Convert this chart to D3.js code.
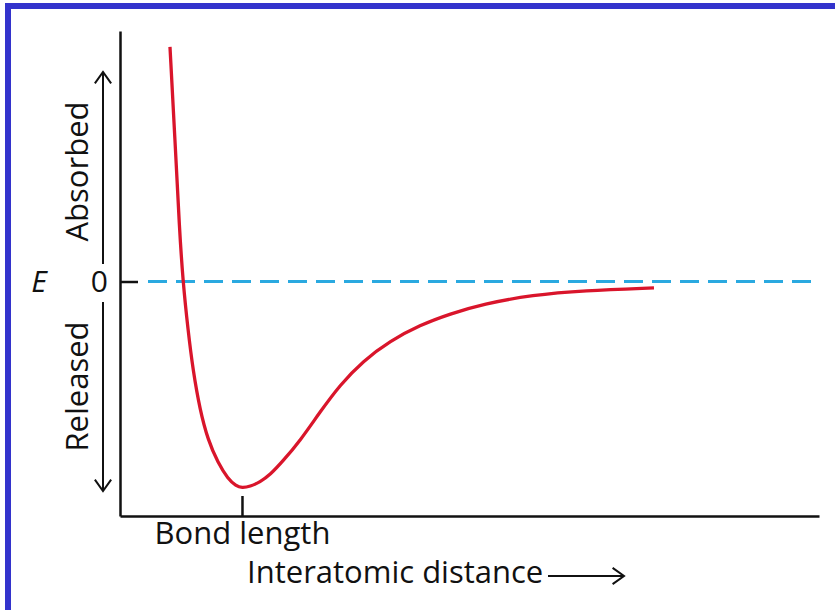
<!DOCTYPE html>
<html>
<head>
<meta charset="utf-8">
<script src="https://cdn.jsdelivr.net/npm/d3@7"></script>
<style>
  html, body { margin: 0; padding: 0; background: #fff; }
  svg { display: block; }
  text { font-family: "Open Sans", sans-serif; fill: #111; }
</style>
</head>
<body>
<script>
// ---- data ----
const distance = [7.15, 7.87, 8.51, 9.01, 9.73, 10.44, 11.44, 12.59, 14.02, 15.45, 16.60, 17.45, 18.60, 20.03, 21.46, 23.32, 25.75, 28.61, 31.47, 34.76, 38.63, 42.92, 47.21, 51.93, 59.08, 66.24, 76.39];
const energy   = [1.136, 0.685, 0.249, 0.0, -0.235, -0.429, -0.622, -0.768, -0.879, -0.956, -0.990, -1.0, -0.993, -0.971, -0.937, -0.869, -0.772, -0.632, -0.501, -0.385, -0.288, -0.211, -0.157, -0.109, -0.065, -0.044, -0.031];
const bondLength = [17.45];
const xTickLabels = ["Bond length"];
const yTicks = [0];
const yTickLabels = ["0"];
const xTitle = "Interatomic distance";
const yTitle = "E";
const upLabel = "Absorbed";
const downLabel = "Released";

const W = 835, H = 610;
const svg = d3.select("body").append("svg").attr("width", W).attr("height", H);

// border
svg.append("path")
  .attr("d", "M8,610 L8,6 L835,6")
  .attr("fill", "none").attr("stroke", "#3333cc").attr("stroke-width", 6);

const x = d3.scaleLinear().domain([0, 100]).range([120, 819]);
const y = d3.scaleLinear().domain([-1.1356, 1.2131]).range([516, 31]);

// zero dashed line
svg.append("line")
  .attr("x1", 148).attr("x2", 819)
  .attr("y1", y(0)).attr("y2", y(0))
  .attr("stroke", "#2aa9e0").attr("stroke-width", 3)
  .attr("stroke-dasharray", "19,9");

// y axis
const yAxis = d3.axisLeft(y).tickValues(yTicks).tickFormat((d, i) => yTickLabels[i])
  .tickSizeInner(-18).tickSizeOuter(0).tickPadding(12);
const gy = svg.append("g").attr("transform", `translate(${x(0)},0)`).call(yAxis);
gy.select(".domain").attr("stroke", "#111").attr("stroke-width", 2.5);
gy.selectAll(".tick line").attr("stroke", "#111").attr("stroke-width", 2.5);
gy.selectAll(".tick text").attr("font-size", 30).attr("font-family", "Open Sans").attr("fill", "#111");

// x axis
const xAxis = d3.axisBottom(x).tickValues(bondLength).tickFormat((d, i) => xTickLabels[i])
  .tickSizeInner(-20).tickSizeOuter(0).tickPadding(6);
const gx = svg.append("g").attr("transform", `translate(0,${y.range()[0]})`).call(xAxis);
gx.select(".domain").attr("stroke", "#111").attr("stroke-width", 2.5);
gx.selectAll(".tick line").attr("stroke", "#111").attr("stroke-width", 2.5);
gx.selectAll(".tick text").attr("font-size", 31).attr("font-family", "Open Sans").attr("fill", "#111");

// curve
const line = d3.line().x(d => x(d[0])).y(d => y(d[1])).curve(d3.curveBasis);
svg.append("path")
  .datum(distance.map((d, i) => [d, energy[i]]))
  .attr("d", line)
  .attr("fill", "none").attr("stroke", "#d9152b").attr("stroke-width", 3.3);

// E label
svg.append("text").attr("x", 39).attr("y", y(0)).attr("dy", "0.35em")
  .attr("text-anchor", "middle").attr("font-style", "italic").attr("font-size", 30).text(yTitle);

// arrows
function arrow(x1, y1, x2, y2) {
  svg.append("line").attr("x1", x1).attr("y1", y1).attr("x2", x2).attr("y2", y2)
    .attr("stroke", "#111").attr("stroke-width", 2);
  const ang = Math.atan2(y2 - y1, x2 - x1);
  const L = 14, a = 0.62;
  const p1 = [x2 - L * Math.cos(ang - a), y2 - L * Math.sin(ang - a)];
  const p2 = [x2 - L * Math.cos(ang + a), y2 - L * Math.sin(ang + a)];
  svg.append("path").attr("d", `M${p1}L${x2},${y2}L${p2}`)
    .attr("fill", "none").attr("stroke", "#111").attr("stroke-width", 2);
}
arrow(103, 264, 103, 72);
arrow(103, 302, 103, 491);
arrow(548, 576, 624, 576);

// rotated labels
svg.append("text").attr("transform", `translate(88,${(100 + 243) / 2}) rotate(-90)`)
  .attr("text-anchor", "middle").attr("font-size", 31).text(upLabel);
svg.append("text").attr("transform", `translate(88,${(318 + 455) / 2}) rotate(-90)`)
  .attr("text-anchor", "middle").attr("font-size", 31).text(downLabel);

// x title
svg.append("text").attr("x", 247).attr("y", 583).attr("font-size", 31).text(xTitle);
</script>
</body>
</html>
